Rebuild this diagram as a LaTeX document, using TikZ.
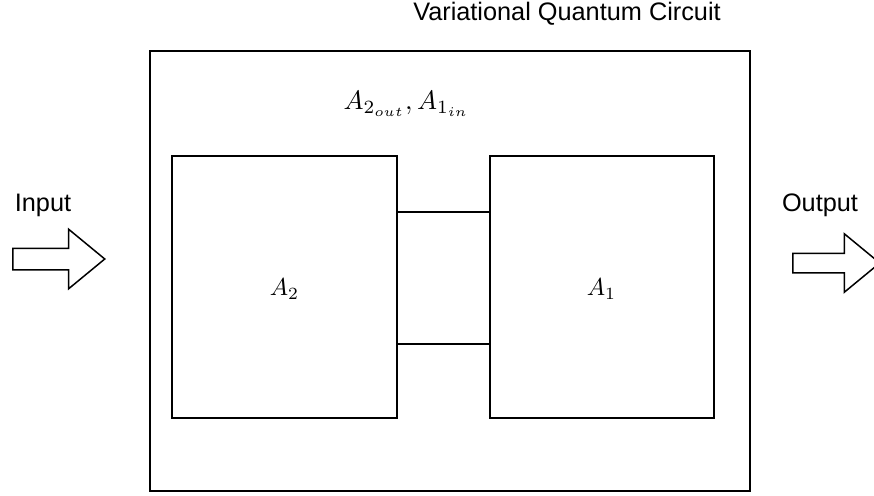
\documentclass[tikz,border=0pt]{standalone}
\usepackage{fontspec}
\setmainfont{Liberation Sans}
\usetikzlibrary{shapes.arrows}
\tikzset{
  box/.style={draw=black, line width=1.5pt, fill=white, inner sep=0pt},
  lbl/.style={inner sep=0pt, font=\fontsize{25.3}{30}\selectfont},
  mlbl/.style={inner sep=0pt, scale=2.45},
  conn/.style={draw=black, line width=1.5pt},
  bigarrow/.style={single arrow, draw=black, line width=1.5pt, fill=white,
    inner xsep=0pt, single arrow tip angle=79, anchor=west}
}
\begin{document}
\begin{tikzpicture}[x=1pt,y=-1pt]
\useasboundingbox (0,0) rectangle (874,495);
\clip (0,0) rectangle (874,495);
\node[box, minimum width=600pt, minimum height=440pt] (vqc) at (450,271) {};
\node[box, minimum width=225pt, minimum height=262pt] (a2) at (284.5,287) {};
\node[box, minimum width=224pt, minimum height=262pt] (a1) at (602,287) {};
\draw[conn] ([yshift=75pt]a2.east) -- ([yshift=75pt]a1.west);
\draw[conn] ([yshift=-57pt]a2.east) -- ([yshift=-57pt]a1.west);
\node[mlbl] (l2) at (284.5,289) {$A_2$};
\node[mlbl] (l1) at (601.5,289) {$A_1$};
\node[mlbl, scale=1.09] (lab) at (406.5,104) {$A_{2_{out}}, A_{1_{in}}$};
\node[lbl] (title) at (567,14) {Variational Quantum Circuit};
\node[lbl] (inl) at (43,205) {Input};
\node[lbl] (outl) at (820,205) {Output};
\node[bigarrow, inner ysep=10pt, minimum height=92pt, single arrow head extend=19pt] (inarr) at (12,259) {};
\node[bigarrow, inner ysep=9pt, minimum height=87pt, single arrow head extend=19.5pt] (outarr) at (792,263) {};
\end{tikzpicture}
\end{document}
